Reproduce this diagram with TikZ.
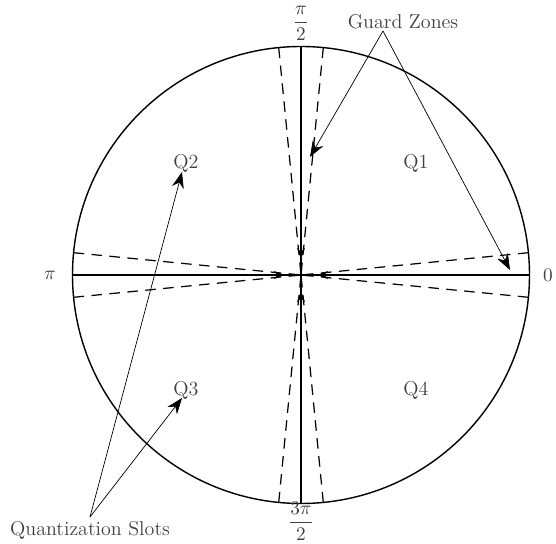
\documentclass[tikz,border=0pt]{standalone}
\usepackage{amsmath}
\usetikzlibrary{arrows.meta,calc,positioning}
\tikzset{
  rim/.style={draw,line width=0.8pt},
  axisline/.style={line width=1.5pt},
  axistip/.style={line width=1.5pt,-{Stealth[length=2.2mm,width=1.6mm]}},
  guardline/.style={line width=0.7pt,dashed,dash pattern=on 2.1mm off 1.5mm},
  pointer/.style={line width=0.4pt,-{Stealth[length=3.2mm,width=2.4mm]}},
  lbl/.style={text=black!75,inner sep=1pt},
  every node/.style={font=\fontsize{11.4}{13.5}\selectfont}
}

\begin{document}
\begin{tikzpicture}
\useasboundingbox (-6.02,-5.36) rectangle (5.10,5.50);
\coordinate (O) at (0,0);
\def\rad{4.57}
% circle and guard zones
\draw[rim] (O) circle (\rad);
\foreach \a in {90,180,270,0}{
  \draw[guardline] (\a+5.6:\rad) -- (O);
  \draw[guardline] (\a-5.6:\rad) -- (O);
}
% axes
\coordinate (E) at (0:\rad);
\coordinate (N) at (90:\rad);
\coordinate (W) at (180:\rad);
\coordinate (S) at (270:\rad);
\draw[axisline] (W) -- (E);
\draw[axisline] (N) -- (S);
\foreach \a in {0,90,180,270}{
  \draw[axistip] (\a:1.0) -- (\a:0.32);
}
% angle labels
\node[lbl] (east) at (4.94,0) {$0$};
\node[lbl] (north) at (0,5.04) {$\dfrac{\pi}{2}$};
\node[lbl] (west) at (-5.02,0) {$\pi$};
\node[lbl,inner sep=0pt] (south) at (0,-4.92) {$\dfrac{3\pi}{2}$};
% quadrants
\node[lbl] (qone) at (2.30,2.24) {Q1};
\node[lbl] (qtwo) at (-2.30,2.24) {Q2};
\node[lbl] (qthree) at (-2.30,-2.30) {Q3};
\node[lbl] (qfour) at (2.30,-2.30) {Q4};
% annotations
\node[lbl] (guard) at (2.04,5.06) {Guard Zones};
\node[lbl] (slots) at (-4.22,-5.10) {Quantization Slots};
\coordinate (gsrc) at (1.64,4.88);
\coordinate (gtop) at (0.18,2.36);
\coordinate (gright) at (4.18,0.10);
\coordinate (ssrc) at (-4.22,-4.84);
\coordinate (stwo) at (-2.38,2.06);
\coordinate (sthree) at (-2.38,-2.46);
\draw[pointer] (gsrc) -- (gtop);
\draw[pointer] (gsrc) -- (gright);
\draw[pointer] (ssrc) -- (stwo);
\draw[pointer] (ssrc) -- (sthree);
\end{tikzpicture}
\end{document}
